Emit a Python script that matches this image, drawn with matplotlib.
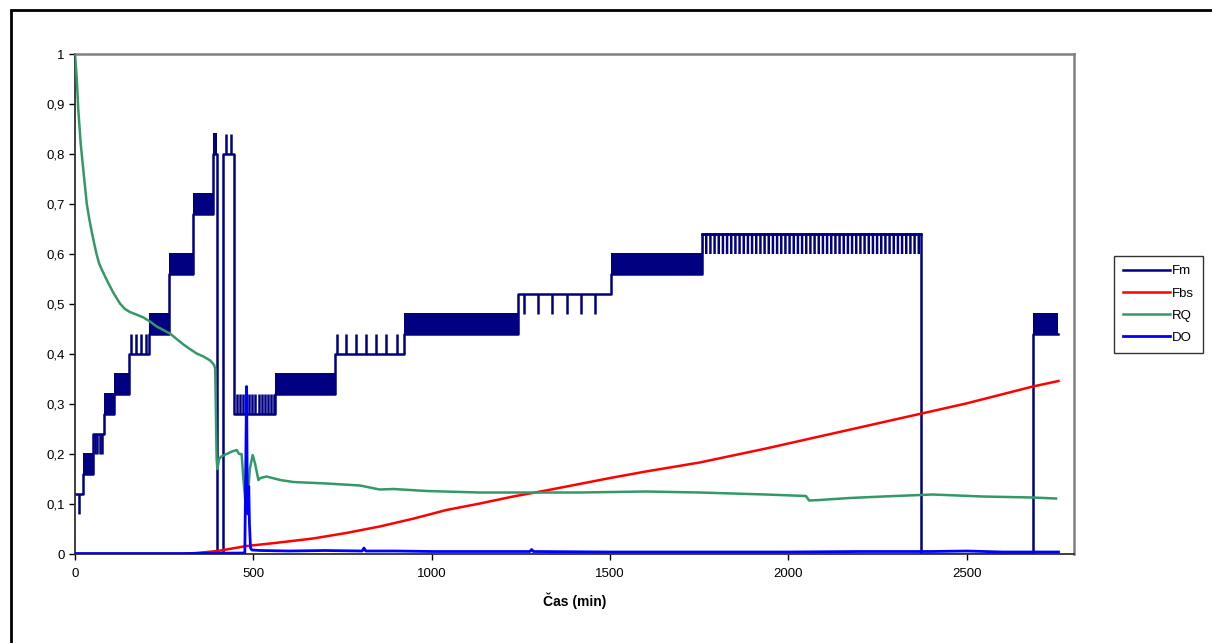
import matplotlib
matplotlib.use("Agg")
import matplotlib.pyplot as plt
from matplotlib.patches import Rectangle
import numpy as np

plt.rcParams["font.family"] = ["Liberation Sans", "DejaVu Sans"]
plt.rcParams["hatch.linewidth"] = 1.8

NAVY = "#000080"
RED = "#FF0000"
GREEN = "#339966"
BLUE = "#0000FF"

# Fm: piecewise levels (t in min). kind: flat / band (dense toggling) / spike / hatch
FM_START = [0, 21, 51, 82, 110, 150, 208, 264, 330, 386, 398, 415, 446, 561, 729, 921, 1241, 1503, 1759, 2372, 2685]
FM_END = [21, 51, 82, 110, 150, 208, 264, 330, 386, 398, 415, 446, 561, 729, 921, 1241, 1503, 1759, 2372, 2685, 2757]
FM_LEVEL = [0.12, 0.16, 0.24, 0.28, 0.32, 0.40, 0.44, 0.56, 0.68, 0.80, 0.0, 0.80, 0.28, 0.32, 0.40, 0.44, 0.52, 0.56, 0.64, 0.0, 0.44]
FM_ALT = [0.08, 0.20, 0.20, 0.32, 0.36, 0.44, 0.48, 0.60, 0.72, 0.84, 0.0, 0.84, 0.32, 0.36, 0.44, 0.48, 0.48, 0.60, 0.60, 0.0, 0.48]
FM_KIND = ["spike", "band", "spike", "band", "band", "spike", "band", "band", "band", "band", "flat",
           "spike", "spike", "band", "spike", "band", "spike", "band", "hatch", "flat", "band"]
FM_SPIKES = [11, 57, 63, 69, 75, 157, 171, 185, 199, 423, 437,
             454, 462, 471, 478, 488, 496, 505, 515, 523, 533, 540, 550, 557,
             735, 760, 788, 816, 845, 873, 902,
             1258, 1297, 1338, 1378, 1418, 1458]

FBS_T = [0, 300, 340, 400, 481, 560, 667, 760, 854, 950, 1041, 1135, 1228, 1320, 1414, 1500, 1600,
         1751, 1937, 2124, 2311, 2498, 2685, 2757]
FBS_V = [0.0, 0.0, 0.002, 0.006, 0.016, 0.022, 0.031, 0.042, 0.055, 0.071, 0.088, 0.101, 0.115, 0.127,
         0.14, 0.152, 0.165, 0.183, 0.211, 0.241, 0.271, 0.301, 0.335, 0.346]

RQ_T = [0, 5, 9, 16, 23, 33, 40, 47, 54, 61, 68, 75, 89, 107, 126, 140, 154, 175, 192, 210, 229, 250,
        266, 285, 304, 322, 341, 360, 379, 390, 393, 397, 399, 404, 410, 425, 440, 453, 460, 467, 472,
        477, 482, 486, 490, 498, 505, 514, 520, 537, 575, 612, 706, 799, 854, 893, 986, 1134, 1414,
        1600, 1751, 1937, 2049, 2058, 2087, 2171, 2264, 2404, 2544, 2685, 2750]
RQ_V = [1.0, 0.95, 0.89, 0.82, 0.77, 0.70, 0.67, 0.644, 0.62, 0.598, 0.58, 0.569, 0.548, 0.523, 0.501,
        0.49, 0.484, 0.478, 0.473, 0.465, 0.455, 0.447, 0.441, 0.43, 0.419, 0.41, 0.401, 0.395, 0.387,
        0.378, 0.37, 0.19, 0.17, 0.19, 0.195, 0.20, 0.205, 0.208, 0.20, 0.20, 0.15, 0.11, 0.14, 0.13,
        0.17, 0.198, 0.18, 0.148, 0.152, 0.155, 0.148, 0.144, 0.141, 0.137, 0.129, 0.13, 0.126, 0.123,
        0.123, 0.125, 0.123, 0.119, 0.116, 0.107, 0.108, 0.112, 0.115, 0.119, 0.115, 0.113, 0.111]

DO_T = [0, 300, 476, 479, 481, 483, 485, 487, 489, 492, 496, 520, 600, 700, 805, 810, 815, 900, 1000,
        1275, 1280, 1285, 1500, 1800, 2000, 2200, 2400, 2500, 2600, 2757]
DO_V = [0.001, 0.001, 0.002, 0.2, 0.335, 0.1, 0.08, 0.135, 0.06, 0.012, 0.008, 0.007, 0.006, 0.007,
        0.006, 0.012, 0.006, 0.006, 0.005, 0.005, 0.009, 0.005, 0.004, 0.004, 0.004, 0.005, 0.005,
        0.006, 0.004, 0.004]

fig = plt.figure(figsize=(12.12, 6.43), dpi=100)
ax = fig.add_axes([0.0619, 0.1384, 0.8241, 0.7776])

# Fm main step line
fm_x, fm_y = [], []
for s, e, lv in zip(FM_START, FM_END, FM_LEVEL):
    fm_x += [s, e]
    fm_y += [lv, lv]
ax.plot(fm_x, fm_y, color=NAVY, lw=1.8, label="Fm", zorder=2)

for s, e, lv, alt, kind in zip(FM_START, FM_END, FM_LEVEL, FM_ALT, FM_KIND):
    lo, hi = min(lv, alt), max(lv, alt)
    if kind == "band":
        ax.fill_between([s, e], lo - 0.002, hi + 0.002, color=NAVY, lw=0, zorder=2)
    elif kind == "hatch":
        ax.fill_between([s, e], lo, hi + 0.002, facecolor="none", edgecolor=NAVY,
                        hatch="||||", lw=0, zorder=2)
        ax.plot([s, e], [hi, hi], color=NAVY, lw=1.8, zorder=2)

for t in FM_SPIKES:
    for s, e, lv, alt in zip(FM_START, FM_END, FM_LEVEL, FM_ALT):
        if s <= t < e:
            ax.vlines(t, lv, alt, color=NAVY, lw=1.8, zorder=2)
            break

ax.plot(FBS_T, FBS_V, color=RED, lw=1.8, label="Fbs", zorder=3)
ax.plot(RQ_T, RQ_V, color=GREEN, lw=1.8, label="RQ", zorder=3)
ax.plot(DO_T, DO_V, color=BLUE, lw=2.0, label="DO", zorder=3)

ax.set_xlim(0, 2800)
ax.set_ylim(0, 1)
ax.set_xticks(np.arange(0, 2501, 500))
yt = np.round(np.arange(0, 1.01, 0.1), 1)
ax.set_yticks(yt)
ax.set_yticklabels([("%g" % v).replace(".", ",") for v in yt])
ax.tick_params(direction="out", length=4, width=1, labelsize=9.5, colors="black")
ax.tick_params(axis="x", pad=6)
for side in ["top", "right"]:
    ax.spines[side].set_color("#808080")
    ax.spines[side].set_linewidth(1.8)
for side in ["left", "bottom"]:
    ax.spines[side].set_color("#303030")
    ax.spines[side].set_linewidth(1.3)

ax.set_xlabel("Čas (min)", fontsize=10, fontweight="bold", labelpad=9)

leg = fig.legend(loc="center left", bbox_to_anchor=(0.9160, 0.5265), fontsize=9.5,
                 handlelength=3.5, handletextpad=0.2, borderpad=0.7, labelspacing=0.75,
                 borderaxespad=0.3, fancybox=False, frameon=True, edgecolor="black")
leg.get_frame().set_linewidth(1.0)

fig.patches.append(Rectangle((0.009, -0.1), 1.1, 0.9844 + 0.1, transform=fig.transFigure,
                             fill=False, edgecolor="black", lw=2, clip_on=False))

fig.savefig("out.png", dpi=100)
